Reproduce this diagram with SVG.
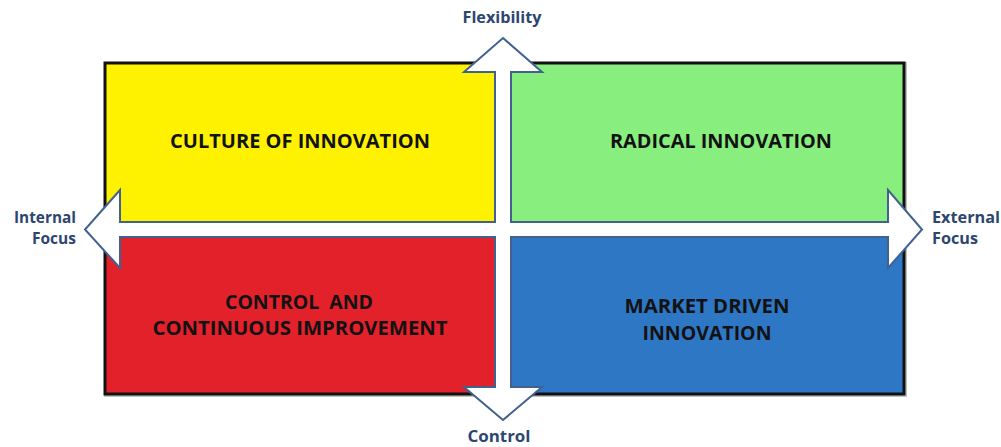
<svg xmlns="http://www.w3.org/2000/svg" width="1001" height="447" viewBox="0 0 1001 447">
  <style>
    .quad { stroke: none; }
    .qtext { font-family: "Open Sans", "Liberation Sans", sans-serif; font-weight: 700; font-size: 19.5px; fill: #121212; text-anchor: middle; }
    .axis { font-family: "Open Sans", "Liberation Sans", sans-serif; font-weight: 700; font-size: 15.5px; fill: #2c4670; }
    .cross { fill: #ffffff; stroke: #41628e; stroke-width: 2; stroke-linejoin: miter; }
  </style>
  <rect width="1001" height="447" fill="#ffffff"/>

  <!-- frame shadow and border -->
  <rect x="106" y="64" width="799" height="331" fill="none" stroke="#9a9a9a" stroke-width="4" opacity="0.6"/>

  <g id="culture-of-innovation">
    <rect class="quad" x="105" y="63" width="399" height="167" fill="#fff200"/>
    <text class="qtext" x="300" y="148" textLength="260" lengthAdjust="spacingAndGlyphs">CULTURE OF INNOVATION</text>
  </g>
  <g id="radical-innovation">
    <rect class="quad" x="503" y="63" width="401" height="167" fill="#88ee7e"/>
    <text class="qtext" x="721" y="148" textLength="222" lengthAdjust="spacingAndGlyphs">RADICAL INNOVATION</text>
  </g>
  <g id="control-continuous-improvement">
    <rect class="quad" x="105" y="229" width="399" height="165" fill="#e2212b"/>
    <text class="qtext" x="299" y="309" textLength="148" lengthAdjust="spacingAndGlyphs" xml:space="preserve">CONTROL  AND</text>
    <text class="qtext" x="300" y="335" textLength="295" lengthAdjust="spacingAndGlyphs">CONTINUOUS IMPROVEMENT</text>
  </g>
  <g id="market-driven-innovation">
    <rect class="quad" x="503" y="229" width="401" height="165" fill="#2e77c5"/>
    <text class="qtext" x="707" y="313" textLength="165" lengthAdjust="spacingAndGlyphs">MARKET DRIVEN</text>
    <text class="qtext" x="707" y="340" textLength="129" lengthAdjust="spacingAndGlyphs">INNOVATION</text>
  </g>

  <rect x="105" y="63" width="799" height="331" fill="none" stroke="#111111" stroke-width="3"/>

  <!-- four-way axis arrow -->
  <g id="connectors">
    <polygon class="cross" points="503,38 542,72 511,72 511,222 888,222 888,190 922,229.5 888,268 888,237 511,237 511,387 542,387 503,420 464,387 495,387 495,237 120,237 120,268 85,229.5 120,190 120,222 495,222 495,72 464,72"/>
  </g>

  <g id="axis-labels">
    <text class="axis" x="502" y="23" text-anchor="middle" textLength="79" lengthAdjust="spacingAndGlyphs">Flexibility</text>
    <text class="axis" x="76" y="223" text-anchor="end" textLength="62" lengthAdjust="spacingAndGlyphs">Internal</text>
    <text class="axis" x="76" y="244" text-anchor="end" textLength="44" lengthAdjust="spacingAndGlyphs">Focus</text>
    <text class="axis" x="932" y="223" textLength="68" lengthAdjust="spacingAndGlyphs">External</text>
    <text class="axis" x="932" y="244" textLength="46" lengthAdjust="spacingAndGlyphs">Focus</text>
    <text class="axis" x="499" y="442" text-anchor="middle" textLength="63" lengthAdjust="spacingAndGlyphs">Control</text>
  </g>
</svg>
